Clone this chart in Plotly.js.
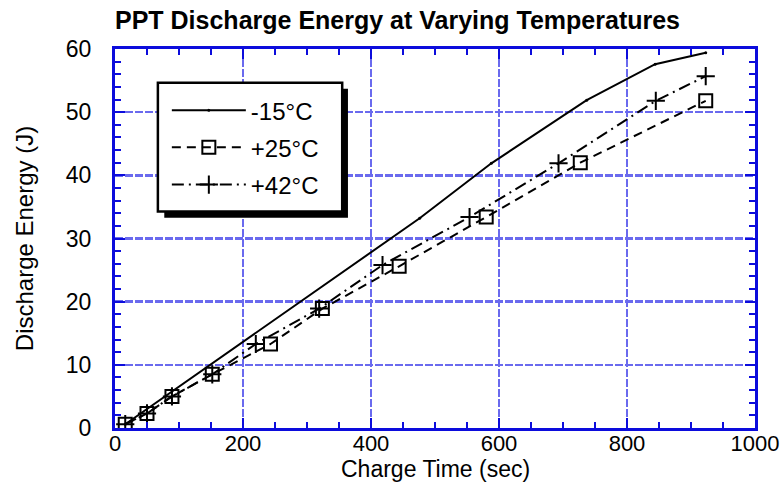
<!DOCTYPE html>
<html>
<head>
<meta charset="utf-8">
<script src="https://cdn.plot.ly/plotly-3.0.1.min.js"></script>
<style>html,body{margin:0;padding:0;background:#fff;}#chart{width:781px;height:493px;}</style>
</head>
<body>
<div id="chart"></div>
<script>
// Series names
var seriesNames = ['-15°C', '+25°C', '+42°C'];

// -15°C (solid line)
var timeM15 = [16, 476, 588, 737, 844, 923];
var energyM15 = [0.6, 33.2, 41.9, 51.9, 57.6, 59.4];

// +25°C (dashed, squares)
var timeP25 = [16, 50, 89, 152, 243, 324, 444, 580, 727, 923];
var energyP25 = [0.6, 2.3, 5.0, 8.5, 13.3, 18.9, 25.6, 33.4, 42.0, 51.8];

// +42°C (dash-dot, crosses)
var timeP42 = [16, 50, 89, 152, 220, 319, 418, 554, 693, 845, 923];
var energyP42 = [0.6, 2.3, 5.0, 8.5, 13.3, 18.9, 25.8, 33.4, 41.9, 51.8, 55.7];

var chartTitle = 'PPT Discharge Energy at Varying Temperatures';
var xTitle = 'Charge Time (sec)';
var yTitle = 'Discharge Energy (J)';

var FONT = 'Liberation Sans, Arial, Helvetica, sans-serif';
var BLUE = '#0c0cdc';
var GRID = '#6a6aee';

var traces = [
  {x: timeM15, y: energyM15, name: seriesNames[0], type: 'scatter', mode: 'lines+markers',
   line: {color: '#000', width: 2, dash: 'solid'},
   marker: {symbol: 'circle', size: 3, color: '#000'}, legendgroup: 'a'},
  {x: timeP25, y: energyP25, name: seriesNames[1], type: 'scatter', mode: 'lines+markers',
   line: {color: '#000', width: 2, dash: '9px,6px'},
   marker: {symbol: 'square-open', size: 13, color: '#000', line: {color: '#000', width: 2}}, legendgroup: 'b'},
  {x: timeP42, y: energyP42, name: seriesNames[2], type: 'scatter', mode: 'lines+markers',
   line: {color: '#000', width: 2, dash: '12px,5px,2px,5px'},
   marker: {symbol: 'cross-thin-open', size: 13, color: '#000', line: {color: '#000', width: 2}}, legendgroup: 'c'}
];

var axisCommon = {
  showline: true, linecolor: BLUE, linewidth: 3, mirror: 'allticks',
  ticks: 'inside', ticklen: 10, tickwidth: 2, tickcolor: BLUE,
  showgrid: true, gridcolor: GRID, gridwidth: 2.5, griddash: '8px,2px',
  zeroline: false,
  tickfont: {family: FONT, size: 23, color: '#000'}
};

var layout = {
  width: 781, height: 493,
  margin: {l: 115, r: 26, t: 49, b: 65, pad: 0},
  paper_bgcolor: '#fff', plot_bgcolor: '#fff',
  font: {family: FONT, color: '#000'},
  title: {text: '<b>' + chartTitle + '</b>', font: {family: FONT, size: 25, color: '#000'},
          xref: 'paper', x: 0, xanchor: 'left', yref: 'container', y: 0.958, yanchor: 'middle'},
  xaxis: Object.assign({}, axisCommon, {
    range: [0, 1000], dtick: 200, tick0: 0,
    minor: {dtick: 50, ticks: 'inside', ticklen: 6, tickwidth: 2, tickcolor: BLUE, showgrid: false},
    ticklabelstandoff: -6,
    tickfont: {family: FONT, size: 22, color: '#000'}
  }),
  yaxis: Object.assign({}, axisCommon, {
    range: [0, 60], dtick: 10, tick0: 0,
    minor: {dtick: 2, ticks: 'inside', ticklen: 6, tickwidth: 2, tickcolor: BLUE, showgrid: false},
    ticklabelstandoff: 16,
    title: {text: yTitle, font: {family: FONT, size: 24, color: '#000'}, standoff: 26}
  }),
  annotations: [
    {text: xTitle, xref: 'paper', yref: 'paper', x: 0.5, y: -0.108, xanchor: 'center', yanchor: 'middle',
     showarrow: false, font: {family: FONT, size: 23, color: '#000'}}
  ],
  showlegend: true,
  legend: {
    x: 0.081, y: 0.897, xanchor: 'left', yanchor: 'top',
    bgcolor: 'rgba(0,0,0,0)', borderwidth: 0,
    font: {family: FONT, size: 24, color: '#000'},
    itemwidth: 74, tracegroupgap: 3, itemclick: false
  },
  shapes: [
    {type: 'rect', xref: 'paper', yref: 'paper', x0: 0.077, x1: 0.364, y0: 0.555, y1: 0.895,
     fillcolor: '#000', line: {width: 0}, layer: 'above'},
    {type: 'rect', xref: 'paper', yref: 'paper', x0: 0.067, x1: 0.355, y0: 0.571, y1: 0.911,
     fillcolor: '#fff', line: {color: '#000', width: 2.5}, layer: 'above'}
  ]
};

Plotly.newPlot('chart', traces, layout, {displayModeBar: false, staticPlot: true});
</script>
</body>
</html>
